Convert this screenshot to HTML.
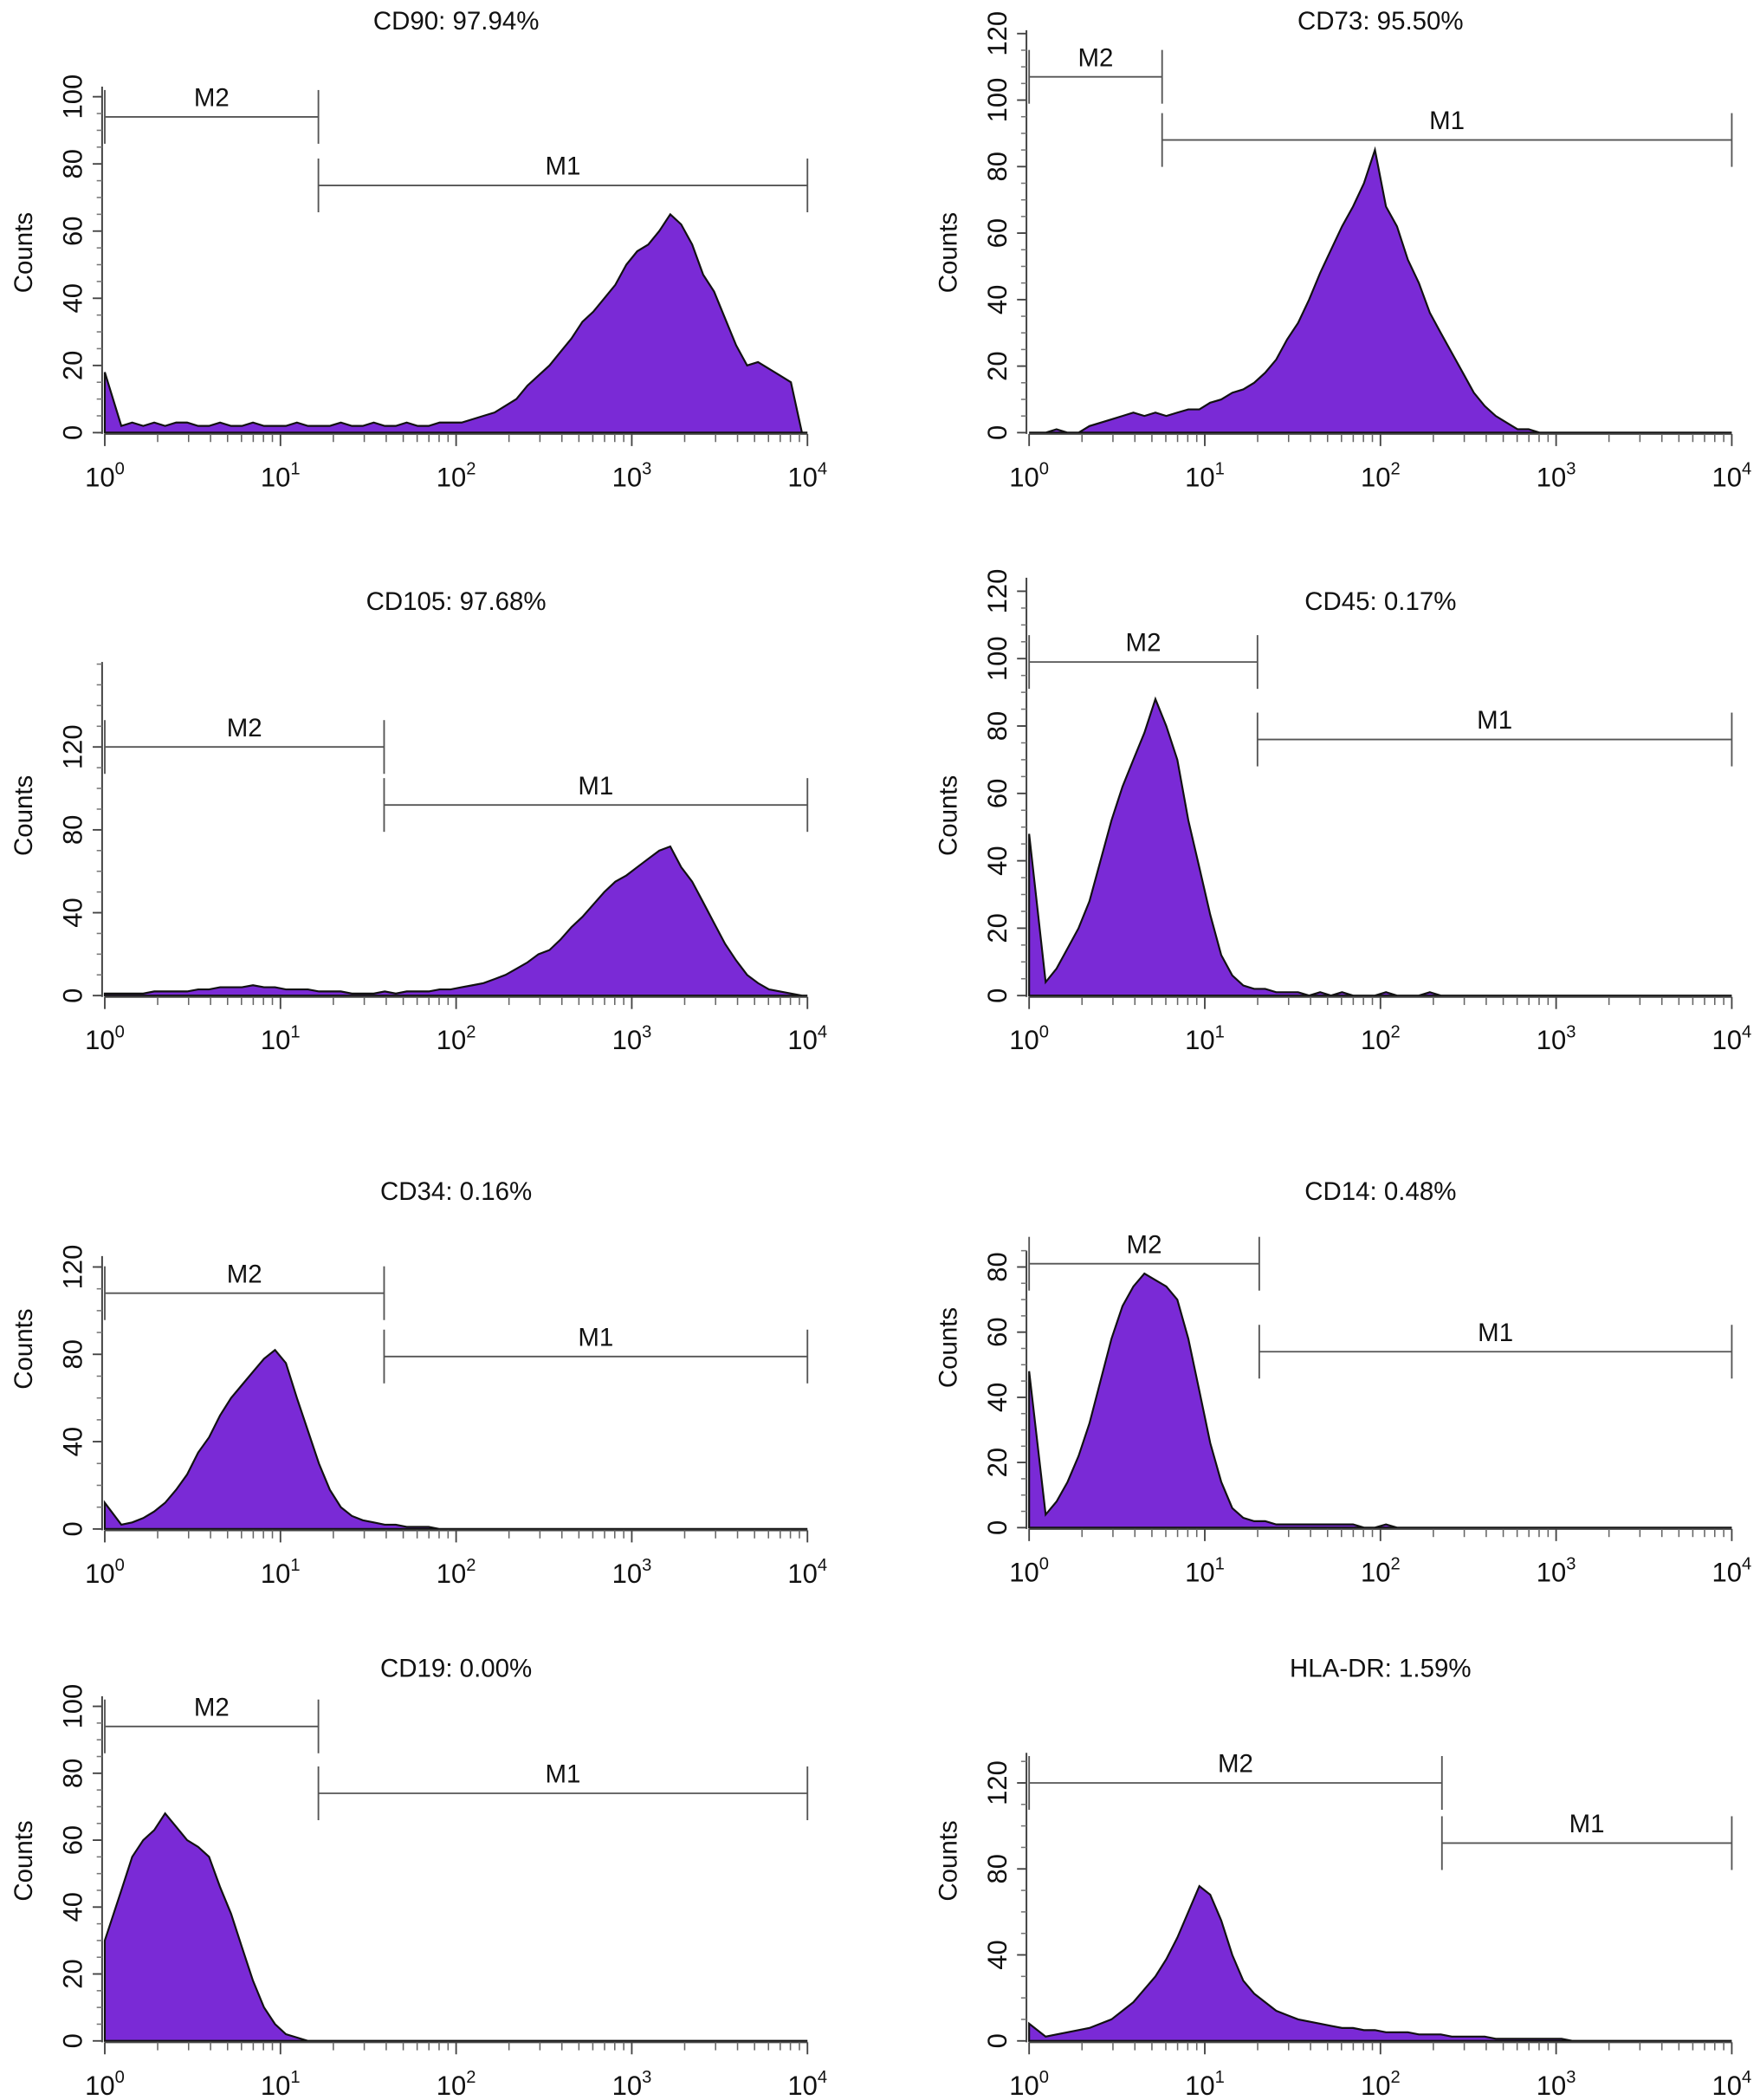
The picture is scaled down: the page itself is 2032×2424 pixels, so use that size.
<!DOCTYPE html>
<html><head><meta charset="utf-8"><style>
html,body{margin:0;padding:0;background:#fff}
svg{display:block}
text{font-family:"Liberation Sans",sans-serif;fill:#111}
</style></head><body>
<svg id="fig" width="2032" height="2424" viewBox="0 0 1310 1563" preserveAspectRatio="none" xmlns="http://www.w3.org/2000/svg"></svg>
<script>
// histogram counts: 64 bins over log10 range 0..4 (16 bins per decade)
const cd90  = [18,2,3,2,3,2,3,3,2,2,3,2,2,3,2,2,2,3,2,2,2,3,2,2,3,2,2,3,2,2,3,3,3,4,5,6,8,10,14,17,20,24,28,33,36,40,44,50,54,56,60,65,62,56,47,42,34,26,20,21,19,17,15,0];
const cd73  = [0,0,1,0,0,2,3,4,5,6,5,6,5,6,7,7,9,10,12,13,15,18,22,28,33,40,48,55,62,68,75,85,68,62,52,45,36,30,24,18,12,8,5,3,1,1,0,0,0,0,0,0,0,0,0,0,0,0,0,0,0,0,0,0];
const cd105 = [1,1,1,1,2,2,2,2,3,3,4,4,4,5,4,4,3,3,3,2,2,2,1,1,1,2,1,2,2,2,3,3,4,5,6,8,10,13,16,20,22,27,33,38,44,50,55,58,62,66,70,72,62,55,45,35,25,17,10,6,3,2,1,0];
const cd45  = [48,4,8,14,20,28,40,52,62,70,78,88,80,70,52,38,24,12,6,3,2,2,1,1,1,0,1,0,1,0,0,0,1,0,0,0,1,0,0,0,0,0,0,0,0,0,0,0,0,0,0,0,0,0,0,0,0,0,0,0,0,0,0,0];
const cd34  = [12,2,3,5,8,12,18,25,35,42,52,60,66,72,78,82,76,60,45,30,18,10,6,4,3,2,2,1,1,1,0,0,0,0,0,0,0,0,0,0,0,0,0,0,0,0,0,0,0,0,0,0,0,0,0,0,0,0,0,0,0,0,0,0];
const cd14  = [48,4,8,14,22,32,45,58,68,74,78,76,74,70,58,42,26,14,6,3,2,2,1,1,1,1,1,1,1,1,0,0,1,0,0,0,0,0,0,0,0,0,0,0,0,0,0,0,0,0,0,0,0,0,0,0,0,0,0,0,0,0,0,0];
const cd19  = [30,45,55,60,63,68,64,60,58,55,46,38,28,18,10,5,2,1,0,0,0,0,0,0,0,0,0,0,0,0,0,0,0,0,0,0,0,0,0,0,0,0,0,0,0,0,0,0,0,0,0,0,0,0,0,0,0,0,0,0,0,0,0,0];
const hladr = [8,2,3,4,5,6,8,10,14,18,24,30,38,48,60,72,68,56,40,28,22,18,14,12,10,9,8,7,6,6,5,5,4,4,4,3,3,3,2,2,2,2,1,1,1,1,1,1,1,0,0,0,0,0,0,0,0,0,0,0,0,0,0,0];
const titles = ["CD90: 97.94%","CD73: 95.50%","CD105: 97.68%","CD45: 0.17%","CD34: 0.16%","CD14: 0.48%","CD19: 0.00%","HLA-DR: 1.59%"];
const yTicks = [[0,20,40,60,80,100],[0,20,40,60,80,100,120],[0,40,80,120],[0,20,40,60,80,100,120],[0,40,80,120],[0,20,40,60,80],[0,20,40,60,80,100],[0,40,80,120]];
const gateM2End = [1.216,0.757,1.59,1.30,1.59,1.31,1.216,2.35];
const gateM2Y = [94,107,120,99,108,81,94,120];
const gateM1Y = [73.6,88,92,76,79,54,74,92];
const series = [cd90,cd73,cd105,cd45,cd34,cd14,cd19,hladr];

const layout = [
 {x0:78,x1:601,y0:322,ppu:2.5,yTop:103,ty:16},
 {x0:766,x1:1289,y0:322,ppu:2.475,yTop:121,ty:16},
 {x0:78,x1:601,y0:741,ppu:1.542,yTop:161,ty:448},
 {x0:766,x1:1289,y0:741,ppu:2.508,yTop:124,ty:448},
 {x0:78,x1:601,y0:1138,ppu:1.625,yTop:125,ty:887},
 {x0:766,x1:1289,y0:1137,ppu:2.425,yTop:85,ty:887},
 {x0:78,x1:601,y0:1519,ppu:2.49,yTop:103,ty:1242},
 {x0:766,x1:1289,y0:1519,ppu:1.6,yTop:134,ty:1242}
];
const NS="http://www.w3.org/2000/svg";
const svg=document.getElementById('fig');
function mk(tag,attrs,parent){const e=document.createElementNS(NS,tag);for(const k in attrs)e.setAttribute(k,attrs[k]);(parent||svg).appendChild(e);return e;}

series.forEach((vals,p)=>{
  const L=layout[p];
  const g=mk('g',{});
  
  
  const X=lg=>L.x0+(L.x1-L.x0)*lg/4;
  const Y=v=>L.y0-v*L.ppu;
  const t=mk('text',{x:(L.x0+L.x1)/2,y:L.ty+6,'text-anchor':'middle','font-size':19},g);
  t.textContent=titles[p];
  
  
  const n=vals.length;
  let d='M'+X(0)+','+Y(0)+' L'+X(0)+','+Y(vals[0]).toFixed(1);
  vals.forEach((v,i)=>{ if(i>0) d+=' L'+X((i+0.5)*4/n).toFixed(1)+','+Y(v).toFixed(1);});
  d+=' L'+X(4)+','+Y(0)+' Z';
  const h=mk('path',{d:d,fill:'#7a2ad6',stroke:'#111','stroke-width':1.4,'stroke-linejoin':'miter'},g);
  
  
  const xa=mk('line',{x1:X(0),y1:L.y0+1,x2:X(4),y2:L.y0+1,stroke:'#444','stroke-width':1.3},g);
  
  
  for(let dcd=0;dcd<=4;dcd++){
    mk('line',{x1:X(dcd),y1:L.y0+1,x2:X(dcd),y2:L.y0+10,stroke:'#444','stroke-width':1.2},g);
    const tl=mk('text',{x:X(dcd),y:L.y0+40,'text-anchor':'middle','font-size':20},g);
    
    
    tl.innerHTML='10<tspan dy="-9" font-size="13">'+dcd+'</tspan>';
    if(dcd<4) for(let m=2;m<=9;m++){const lx=X(dcd+Math.log10(m));mk('line',{x1:lx,y1:L.y0+1,x2:lx,y2:L.y0+7,stroke:'#666','stroke-width':1},g);}
  }
  const ya=mk('line',{x1:L.x0-2,y1:Y(L.yTop),x2:L.x0-2,y2:L.y0+1,stroke:'#444','stroke-width':1.3},g);
  
  
  const step=yTicks[p][1];
  for(let v=0;v<=L.yTop;v+=step/4){mk('line',{x1:L.x0-2,y1:Y(v),x2:L.x0-6,y2:Y(v),stroke:'#777','stroke-width':1},g);}
  yTicks[p].forEach(v=>{
    mk('line',{x1:L.x0-2,y1:Y(v),x2:L.x0-9,y2:Y(v),stroke:'#444','stroke-width':1.2},g);
    const yl=mk('text',{x:0,y:0,'text-anchor':'middle','font-size':20,transform:'translate('+(L.x0-17)+','+Y(v)+') rotate(-90)'},g);
    yl.textContent=v;
    
    
  });
  const yt=mk('text',{x:0,y:0,'text-anchor':'middle','font-size':19,transform:'translate('+(L.x0-54)+','+(L.y0-134)+') rotate(-90)'},g);
  yt.textContent='Counts';
  
  
  const gx=X(gateM2End[p]);
  const y2=Y(gateM2Y[p]), y1=Y(gateM1Y[p]);
  const gs={stroke:'#555','stroke-width':1.2};
  const m2=mk('g',{},g);
  
  
  mk('line',Object.assign({x1:X(0),y1:y2,x2:gx,y2:y2},gs),m2);
  mk('line',Object.assign({x1:X(0),y1:y2-20,x2:X(0),y2:y2+20},gs),m2);
  mk('line',Object.assign({x1:gx,y1:y2-20,x2:gx,y2:y2+20},gs),m2);
  const l2=mk('text',{x:(X(0)+gx)/2,y:y2-8,'text-anchor':'middle','font-size':19},m2);
  l2.textContent='M2';
  const m1=mk('g',{},g);
  
  
  mk('line',Object.assign({x1:gx,y1:y1,x2:X(4),y2:y1},gs),m1);
  mk('line',Object.assign({x1:gx,y1:y1-20,x2:gx,y2:y1+20},gs),m1);
  mk('line',Object.assign({x1:X(4),y1:y1-20,x2:X(4),y2:y1+20},gs),m1);
  const l1=mk('text',{x:(gx+X(4))/2,y:y1-8,'text-anchor':'middle','font-size':19},m1);
  l1.textContent='M1';
});
</script>
</body></html>
